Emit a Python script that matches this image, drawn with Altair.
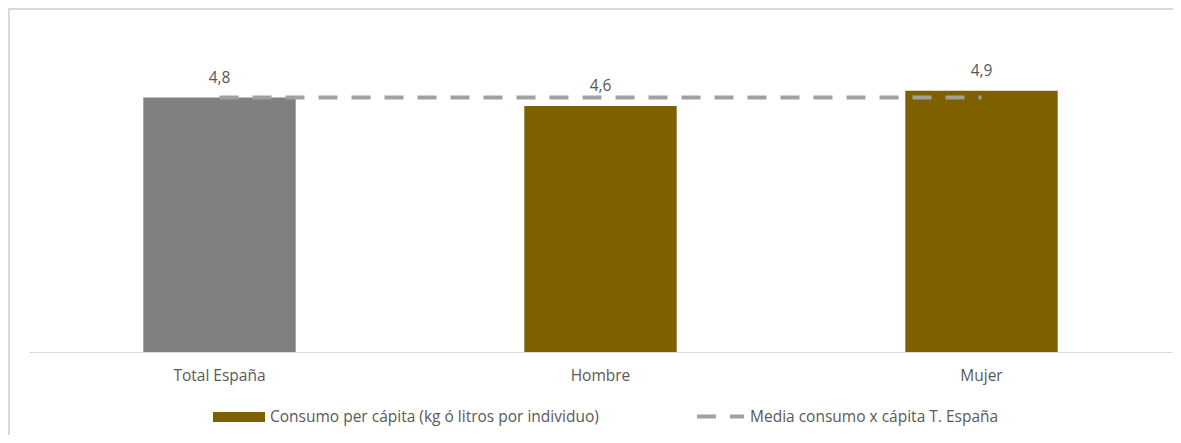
import altair as alt
import pandas as pd

categorias = ["Total España", "Hombre", "Mujer"]
consumo = [4.8, 4.64, 4.93]
etiquetas = ["4,8", "4,6", "4,9"]
media_espana = [4.8, 4.8, 4.8]
SERIE_BAR = "Consumo per cápita (kg ó litros por individuo)"
SERIE_MEDIA = "Media consumo x cápita T. España"
grupo_barra = ["Total", SERIE_BAR, SERIE_BAR]

df = pd.DataFrame({
    "categoria": categorias,
    "consumo": consumo,
    "etiqueta": etiquetas,
    "media": media_espana,
    "grupo": grupo_barra,
    "serie_media": [SERIE_MEDIA] * 3,
})

FONT = "Open Sans"
TXT = "#595959"

x = alt.X(
    "categoria:N", sort=categorias, title=None,
    scale=alt.Scale(paddingInner=0.6, paddingOuter=0.3),
    axis=alt.Axis(labelAngle=0, ticks=False, domainColor="#D9D9D9", domainWidth=1,
                  labelColor=TXT, labelFont=FONT, labelFontSize=15.5, labelPadding=16),
)
yscale = alt.Scale(domain=[0, 6])

base = alt.Chart(df)

bars = base.mark_bar().encode(
    x=x,
    y=alt.Y("consumo:Q", scale=yscale, axis=None),
    color=alt.Color(
        "grupo:N",
        scale=alt.Scale(domain=[SERIE_BAR, "Total"], range=["#7F6000", "#808080"]),
        legend=alt.Legend(
            values=[SERIE_BAR], title=None, orient="none", legendX=184, legendY=357,
            symbolType="M-1,-0.19H1V0.19H-1Z", symbolSize=2704, symbolStrokeWidth=0,
            labelFont=FONT, labelFontSize=15.5, labelColor=TXT, labelLimit=600,
            labelOffset=5, padding=0,
        ),
    ),
)

labels = base.mark_text(font=FONT, fontSize=15.5, color=TXT, dy=-15, baseline="alphabetic").encode(
    x=alt.X("categoria:N", sort=categorias),
    y=alt.Y("consumo:Q", scale=yscale),
    text="etiqueta:N",
)

line = base.mark_line(strokeWidth=4, color="#A0A0A0", strokeCap="butt").encode(
    x=alt.X("categoria:N", sort=categorias),
    y=alt.Y("media:Q", scale=yscale),
    strokeDash=alt.StrokeDash(
        "serie_media:N",
        scale=alt.Scale(domain=[SERIE_MEDIA], range=[[19, 14]]),
        legend=alt.Legend(
            title=None, orient="none", legendX=666, legendY=357,
            symbolType="stroke", symbolSize=2209, symbolStrokeWidth=4,
            symbolStrokeColor="#A0A0A0",
            labelFont=FONT, labelFontSize=15.5, labelColor=TXT, labelLimit=600,
            labelOffset=4, padding=0,
        ),
    ),
)

frame_df = pd.DataFrame({"k": [0]})
frame_top = alt.Chart(frame_df).mark_rule(color="#D9D9D9", strokeWidth=2).encode(
    x=alt.value(-21), x2=alt.value(1150), y=alt.value(-25)
)
frame_left = alt.Chart(frame_df).mark_rule(color="#D9D9D9", strokeWidth=2).encode(
    x=alt.value(-20), y=alt.value(-26), y2=alt.value(402)
)

chart = alt.layer(frame_top, frame_left, bars, line, labels).resolve_scale(
    color="independent", strokeDash="independent"
).properties(
    width=1143, height=318,
    autosize=alt.AutoSizeParams(type="none"),
    padding={"left": 21, "top": 26, "right": 1, "bottom": 83},
).configure_view(stroke=None)

chart.save("out.html", embed_options={"renderer": "svg", "actions": False})
